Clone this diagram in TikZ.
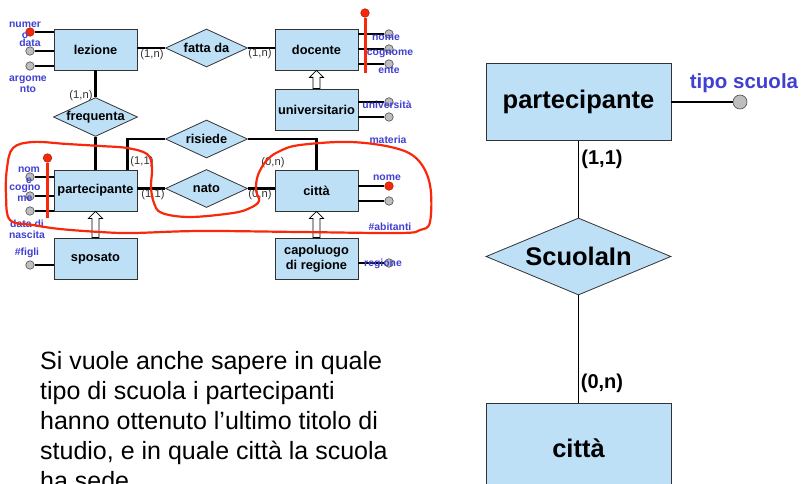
\documentclass[tikz,border=0pt]{standalone}
\usepackage{fontspec}
\setmainfont{Liberation Sans}
\usetikzlibrary{shapes.geometric,calc}
\definecolor{entfill}{RGB}{189,224,247}
\definecolor{attrblue}{RGB}{64,64,208}
\definecolor{attrgray}{RGB}{190,190,190}
\definecolor{markred}{RGB}{250,40,10}
\definecolor{cardgray}{RGB}{50,50,50}
\newcommand\isaarrow[2]{%
  \draw[line width=0.8pt,fill=white] ($(#1.north)+(-3.5,0)$) -- ($(#2.south)+(-3.5,7)$) -- ($(#2.south)+(-7,7)$) -- (#2.south) -- ($(#2.south)+(7,7)$) -- ($(#2.south)+(3.5,7)$) -- ($(#1.north)+(3.5,0)$) -- cycle;}
\begin{document}
\begin{tikzpicture}[x=1pt,y=-1pt,
  ent/.style={draw=black!80,fill=entfill,line width=0.8pt,minimum width=83pt,minimum height=41pt,inner sep=0pt,font=\bfseries\fontsize{12.8}{14.5}\selectfont,align=center},
  rel/.style={diamond,draw=black!80,fill=entfill,line width=0.8pt,minimum width=82pt,minimum height=38pt,aspect=2.16,inner sep=0pt,font=\bfseries\fontsize{12.8}{14.5}\selectfont},
  bigent/.style={draw=black!80,fill=entfill,line width=0.8pt,minimum width=185pt,minimum height=77pt,inner sep=0pt,font=\bfseries\fontsize{25.5}{28}\selectfont},
  bigrel/.style={diamond,draw=black!80,fill=entfill,line width=0.8pt,minimum width=185pt,minimum height=77pt,aspect=2.4,inner sep=0pt,font=\bfseries\fontsize{25.5}{28}\selectfont},
  conn/.style={line width=2.8pt},
  bigconn/.style={line width=1.8pt},
  attr/.style={circle,draw=black!70,fill=attrgray,line width=0.6pt,minimum size=8.5pt,inner sep=0pt},
  keyattr/.style={attr,fill=markred,draw=markred!70!black},
  alabel/.style={text=attrblue,font=\bfseries\fontsize{10.4}{11}\selectfont,align=center,inner sep=0pt},
  card/.style={text=cardgray,font=\fontsize{11.2}{12}\selectfont,inner sep=0pt},
  bigcard/.style={font=\bfseries\fontsize{20}{22}\selectfont,inner sep=0pt},
  redmark/.style={draw=markred,line width=3pt},
  para/.style={anchor=base west,inner sep=0pt,font=\fontsize{25}{30}\selectfont}
]
\useasboundingbox (0,0) rectangle (801,484);
\clip (0,0) rectangle (801,484);

% ---------- small schema ----------
\node[ent] (lez) at (95.5,49.5) {lezione};
\node[ent] (doc) at (316.5,49.5) {docente};
\node[ent] (univ) at (316.5,109.5) {universitario};
\node[ent] (part) at (95.5,190.5) {partecipante};
\node[ent] (cit) at (316.5,190.5) {città};
\node[ent] (spos) at (95.5,258.5) {sposato};
\node[ent] (capo) at (316.5,258.5) {capoluogo\\di regione};

\node[rel] (fat) at (206.5,48) {fatta da};
\node[rel] (freq) at (95.5,117) {frequenta};
\node[rel] (ris) at (206.5,139) {risiede};
\node[rel] (nato) at (206.5,188.5) {nato};

% relationship connectors
\draw[conn] (fat.west -| lez.east) -- (fat.west);
\draw[conn] (fat.east) -- (fat.east -| doc.west);
\draw[conn] (lez.south) -- (freq.north);
\draw[conn] (freq.south) -- (part.north);
\coordinate (pr) at ($(part.north east)+(-10,0)$);
\draw[conn] (pr) |- (ris.west);
\draw[conn] (ris.east) -| (cit.north);
\draw[conn] (nato.west -| part.east) -- (nato.west);
\draw[conn] (nato.east) -- (nato.east -| cit.west);

% cardinalities
\node[card] (c1) at (152,55) {(1,n)};
\node[card] (c2) at (260,54) {(1,n)};
\node[card] (c3) at (81,96) {(1,n)};
\node[card] (c4) at (142,162) {(1,1)};
\node[card] (c5) at (153,195) {(1,1)};
\node[card] (c6) at (273,163) {(0,n)};
\node[card] (c7) at (260,195) {(0,n)};

% generalisations
\isaarrow{univ}{doc}
\isaarrow{spos}{part}
\isaarrow{capo}{cit}

% lezione attributes
\node[keyattr] (la1) at (30,32) {};
\node[attr] (la2) at (30,51) {};
\node[attr] (la3) at (30,66) {};
\foreach \a in {la1,la2,la3} \draw[conn] (\a) -- (\a -| lez.west);
\node[alabel] (lt1) at (25,30) {numer\\o};
\node[alabel] (lt2) at (30,43) {data};
\node[alabel] (lt3) at (28,84) {argome\\nto};

% docente attributes
\node[attr] (da1) at (389,34) {};
\node[attr] (da2) at (389,49) {};
\node[attr] (da3) at (389,64) {};
\foreach \a in {da1,da2,da3} \draw[conn] (\a) -- (\a -| doc.east);
\node[keyattr] (dk) at (365,13) {};
\coordinate (dkend) at (365,73);
\draw[redmark] (dk) -- (dkend);
\node[alabel] (dt1) at (386,38) {nome};
\node[alabel] (dt2) at (390,54) {cognome};
\node[alabel] (dt3) at (389,70) {ente};

% universitario attributes
\node[attr] (ua1) at (389,102) {};
\node[attr] (ua2) at (389,117) {};
\foreach \a in {ua1,ua2} \draw[conn] (\a) -- (\a -| univ.east);
\node[alabel] (ut1) at (387,104.5) {università};

% partecipante attributes
\node[attr] (pa1) at (30,177) {};
\node[attr] (pa2) at (30,196) {};
\node[attr] (pa3) at (30,211) {};
\foreach \a in {pa1,pa2,pa3} \draw[conn] (\a) -- (\a -| part.west);
\node[keyattr] (pk) at (47.5,158) {};
\coordinate (pkend) at (47.5,218);
\draw[redmark] (pk) -- (pkend);
\node[alabel] (pt1) at (29,175) {nom\\e};
\node[alabel] (pt2) at (25,193) {cogno\\me};
\node[alabel] (pt3) at (27,229) {data di\\nascita};

% sposato attribute
\node[attr] (sa1) at (30,265) {};
\draw[conn] (sa1) -- (sa1 -| spos.west);
\node[alabel] (st1) at (27,253) {\#figli};

% citta attributes
\node[keyattr] (ca1) at (389,186) {};
\node[attr] (ca2) at (389,201) {};
\foreach \a in {ca1,ca2} \draw[conn] (\a) -- (\a -| cit.east);
\node[alabel] (ct0) at (388,140) {materia};
\node[alabel] (ct1) at (387,178) {nome};
\node[alabel] (ct2) at (390,227) {\#abitanti};

% capoluogo attribute
\node[attr] (ka1) at (389,263) {};
\draw[conn] (ka1) -- (ka1 -| capo.east);
\node[alabel] (kt1) at (383,263.5) {regione};

% red freehand loop
\draw[markred,line width=2.2pt] plot[smooth cycle,tension=0.6] coordinates {
 (13,148) (33,142) (67,144) (100,146) (127,148) (147,154) (152,167) (151,187)
 (154,203) (162,213) (190,217) (233,213) (250,208) (259,201) (256,190) (258,175)
 (267,160) (280,151) (300,145) (350,142) (395,148) (418,160) (430,185) (430,222)
 (420,230) (400,233) (300,232) (200,231) (133,233) (100,232) (60,229) (33,225)
 (10,220) (6,195) (7,168)};

% ---------- big schema ----------
\node[bigent] (rp) at (578.5,102) {partecipante};
\node[bigrel] (sci) at (578.5,256.5) {ScuolaIn};
\node[bigent,minimum height=90pt] (rc) at (578.5,448) {città};
\draw[bigconn] (rp.south) -- (sci.north);
\draw[bigconn] (sci.south) -- (rc.north);
\node[attr,minimum size=14pt] (ts) at (740,102) {};
\draw[bigconn] (ts) -- (ts -| rp.east);
\node[text=attrblue,font=\bfseries\fontsize{20.5}{22}\selectfont,inner sep=0pt] (tst) at (744,83) {tipo scuola};
\node[bigcard] (bc1) at (602,159) {(1,1)};
\node[bigcard] (bc2) at (602,383) {(0,n)};

% ---------- text ----------
\node[para] (p1) at (40,369) {Si vuole anche sapere in quale};
\node[para] (p2) at (40,399) {tipo di scuola i partecipanti};
\node[para] (p3) at (40,429) {hanno ottenuto l’ultimo titolo di};
\node[para] (p4) at (40,459) {studio, e in quale città la scuola};
\node[para] (p5) at (40,489) {ha sede};
\end{tikzpicture}
\end{document}
